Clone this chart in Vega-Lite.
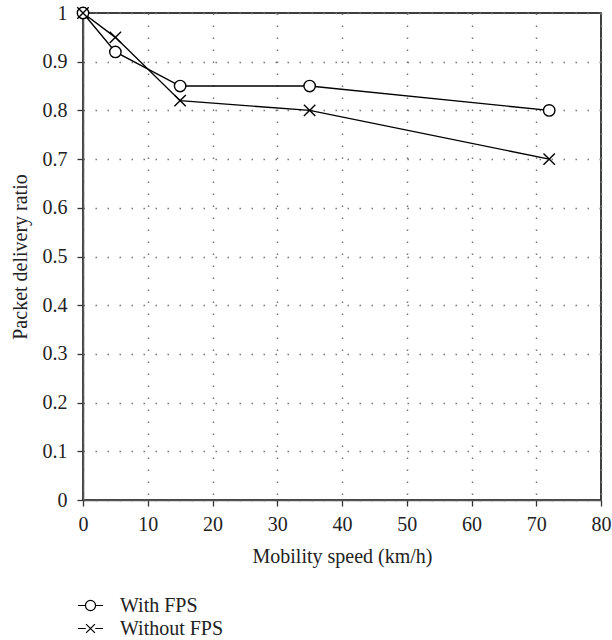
{
  "$schema": "https://vega.github.io/schema/vega-lite/v6.json",
  "width": 518,
  "height": 487,
  "autosize": "none",
  "padding": {"left": 83, "top": 13, "right": 11, "bottom": 140},
  "background": "white",
  "config": {
    "font": "Liberation Serif",
    "view": {"stroke": "black", "strokeWidth": 1.5},
    "axis": {
      "labelFont": "Liberation Serif",
      "titleFont": "Liberation Serif",
      "labelFontSize": 20,
      "titleFontSize": 20,
      "titleFontWeight": "normal",
      "labelColor": "#222",
      "titleColor": "#222",
      "domainColor": "#555",
      "domainWidth": 1.5,
      "tickColor": "#333",
      "tickWidth": 1.3,
      "tickSize": 6,
      "gridColor": "#777",
      "gridWidth": 1.5,
      "gridDash": [1.5, 10.5]
    }
  },
  "data": {
    "values": [
      {"speed": 0, "pdr": 1.0, "series": "With FPS"},
      {"speed": 5, "pdr": 0.92, "series": "With FPS"},
      {"speed": 15, "pdr": 0.85, "series": "With FPS"},
      {"speed": 35, "pdr": 0.85, "series": "With FPS"},
      {"speed": 72, "pdr": 0.8, "series": "With FPS"},
      {"speed": 0, "pdr": 1.0, "series": "Without FPS"},
      {"speed": 5, "pdr": 0.95, "series": "Without FPS"},
      {"speed": 15, "pdr": 0.82, "series": "Without FPS"},
      {"speed": 35, "pdr": 0.8, "series": "Without FPS"},
      {"speed": 72, "pdr": 0.7, "series": "Without FPS"}
    ]
  },
  "encoding": {
    "x": {
      "field": "speed",
      "type": "quantitative",
      "scale": {"domain": [0, 80], "nice": false},
      "axis": {"values": [0, 10, 20, 30, 40, 50, 60, 70, 80], "title": "Mobility speed (km/h)", "labelPadding": 8, "titlePadding": 12, "labelFlush": false}
    },
    "y": {
      "field": "pdr",
      "type": "quantitative",
      "scale": {"domain": [0, 1], "nice": false},
      "axis": {"values": [0, 0.1, 0.2, 0.3, 0.4, 0.5, 0.6, 0.7, 0.8, 0.9, 1], "labelExpr": "datum.value === 0 ? '0' : datum.value === 1 ? '1' : format(datum.value, '.1f')", "title": "Packet delivery ratio", "labelPadding": 10, "titlePadding": 12, "labelFlush": false}
    }
  },
  "resolve": {"scale": {"shape": "independent"}, "legend": {"shape": "independent"}},
  "layer": [
    {
      "mark": {"type": "line", "color": "black", "strokeWidth": 1.4},
      "encoding": {"detail": {"field": "series"}}
    },
    {
      "mark": {"type": "point", "filled": false, "fill": "white", "fillOpacity": 1, "stroke": "black", "strokeWidth": 1.4, "size": 130, "opacity": 1},
      "encoding": {
        "shape": {
          "field": "series",
          "type": "nominal",
          "scale": {"domain": ["With FPS", "Without FPS"], "range": ["circle", "M-1,-1L1,1M-1,1L1,-1"]},
          "legend": null
        }
      }
    },
    {
      "mark": {"type": "point", "filled": false, "stroke": "black", "strokeWidth": 1.2, "opacity": 0},
      "encoding": {
        "shape": {
          "field": "series",
          "type": "nominal",
          "scale": {"domain": ["With FPS", "Without FPS"], "range": ["M-1.2,0L-0.48,0M0.48,0L1.2,0M-0.48,0A0.48,0.48 0 1,0 0.48,0A0.48,0.48 0 1,0 -0.48,0Z", "M-1.2,0L-0.45,0M0.45,0L1.2,0M-0.42,-0.42L0.42,0.42M-0.42,0.42L0.42,-0.42"]},
          "legend": {
            "orient": "none",
            "legendX": -4,
            "legendY": 581,
            "title": null,
            "padding": 0,
            "rowPadding": 1,
            "symbolSize": 441,
            "symbolStrokeWidth": 1.2,
            "symbolStrokeColor": "black",
            "symbolFillColor": "transparent",
            "symbolOpacity": 1,
            "labelFont": "Liberation Serif",
            "labelFontSize": 20,
            "labelColor": "#222",
            "labelOffset": 18,
            "encode": {
              "symbols": {
                "update": {
                  "opacity": {"value": 1},
                  "strokeOpacity": {"value": 1},
                  "stroke": {"value": "black"}
                }
              }
            }
          }
        }
      }
    }
  ]
}
